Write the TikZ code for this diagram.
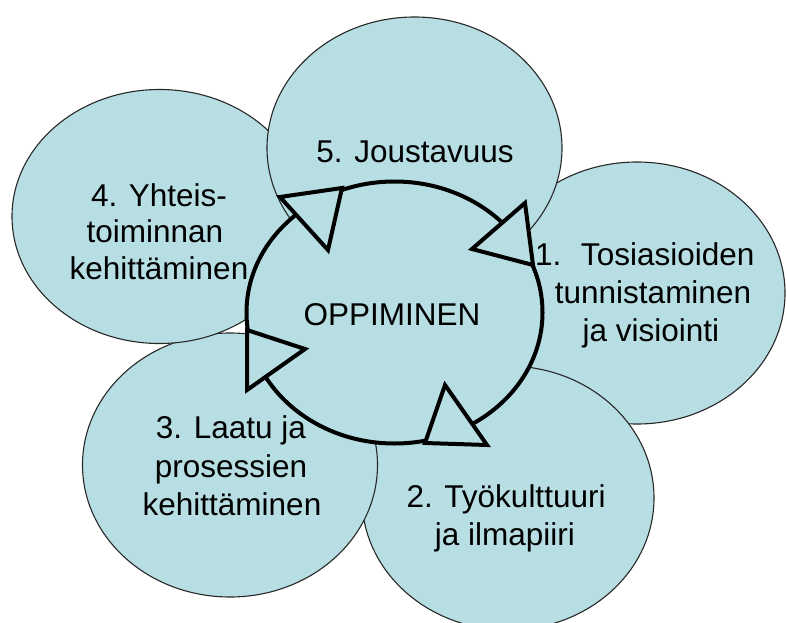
\documentclass[tikz,border=0pt]{standalone}
\usepackage{fontspec}
\setmainfont{Liberation Sans}
\usetikzlibrary{shapes.geometric}
\definecolor{bubfill}{RGB}{183,222,227}
\definecolor{bubline}{RGB}{40,40,40}
\begin{document}
\begin{tikzpicture}[x=1pt,y=-1pt,
  bub/.style={ellipse, draw=bubline, line width=1.1pt, fill=bubfill, inner sep=0pt,
              minimum width=295pt, minimum height=262pt},
  ring/.style={ellipse, draw=black, line width=4pt, fill=bubfill, inner sep=0pt,
               minimum width=296pt, minimum height=262pt},
  head/.style={draw=black, line width=4pt, fill=bubfill, line join=miter},
  lbl/.style={font=\fontsize{31.5}{37.5}\selectfont, inner sep=0pt, anchor=base, text=black}]
\fill[white] (0,0) rectangle (787,623);
\useasboundingbox (0,0) rectangle (787,623);

% outer bubbles (drawing order matters for visible outlines)
\node[bub, minimum width=296pt] (e1) at (637,293) {};
\node[bub, minimum width=292pt, minimum height=264pt] (e2) at (508,498) {};
\node[bub, minimum height=264pt] (e3) at (230,465) {};
\node[bub, minimum height=254pt] (e4) at (159.5,216.5) {};
\node[bub] (e5) at (414.5,148) {};

% central cycle
\node[ring] (c) at (394.5,312.5) {};

% arrow heads on the cycle
\draw[head] (525,203) -- (472,249) -- (533,265) -- cycle;
\draw[head] (445,385) -- (487,445) -- (425,443) -- cycle;
\draw[head] (305,349) -- (247,390) -- (247,330) -- cycle;
\draw[head] (280,197) -- (328,250) -- (342,188) -- cycle;

% labels
\node[lbl] (oppi) at (392,325) {OPPIMINEN};

\node[lbl, anchor=base west] (t1a) at (535,265) {1.\hspace{19.5pt}Tosiasioiden};
\node[lbl] (t1b) at (653,303) {tunnistaminen};
\node[lbl] (t1c) at (651,341) {ja visiointi};

\node[lbl] (t2a) at (506,507) {2. Työkulttuuri};
\node[lbl] (t2b) at (505,545) {ja ilmapiiri};

\node[lbl] (t3a) at (231,438) {3. Laatu ja};
\node[lbl] (t3b) at (231,477) {prosessien};
\node[lbl] (t3c) at (232,515) {kehittäminen};

\node[lbl] (t4a) at (159,206) {4. Yhteis-};
\node[lbl] (t4b) at (155,242) {toiminnan};
\node[lbl] (t4c) at (159,279) {kehittäminen};

\node[lbl] (t5) at (415,162) {5. Joustavuus};
\end{tikzpicture}
\end{document}
